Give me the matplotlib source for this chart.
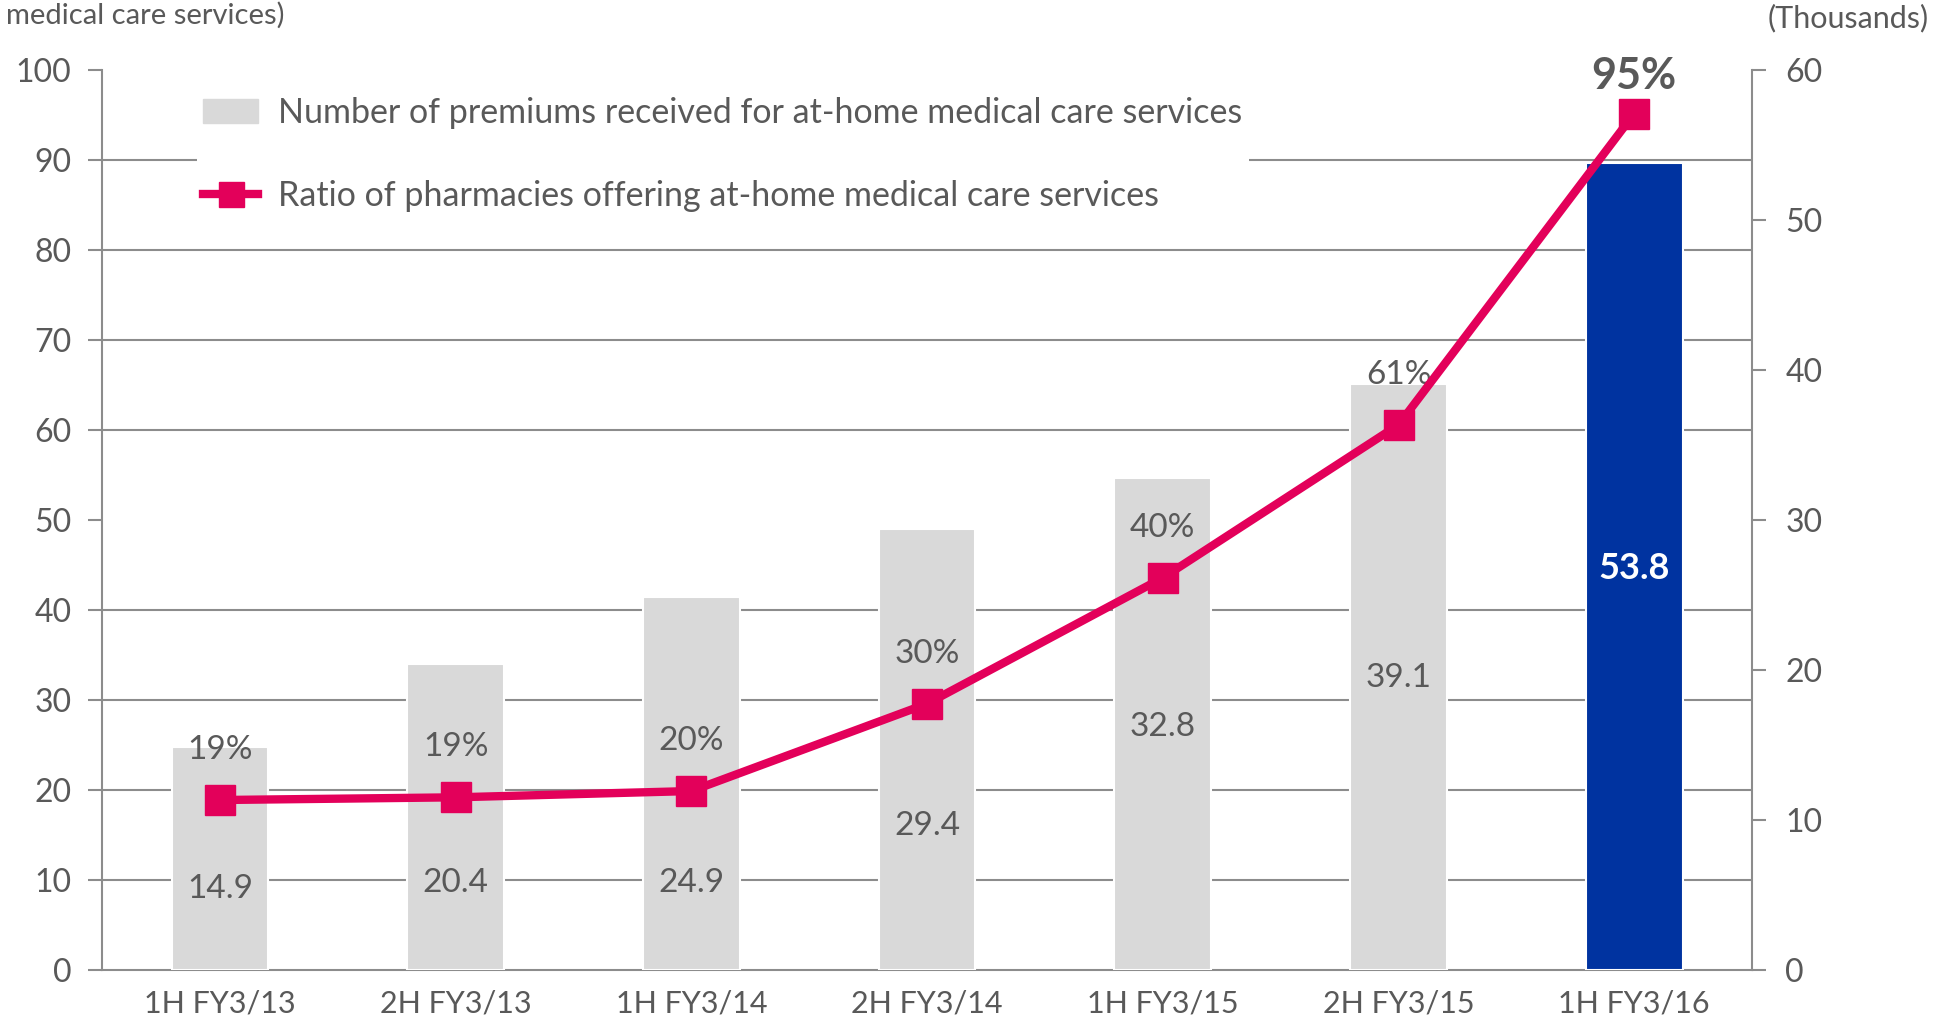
import matplotlib.pyplot as plt
import matplotlib.lines as mlines
import matplotlib.patches as mpatches
import numpy as np

# Données
periodes = ['1H FY3/13', '2H FY3/13', '1H FY3/14', '2H FY3/14', '1H FY3/15', '2H FY3/15', '1H FY3/16']
primes = [14.9, 20.4, 24.9, 29.4, 32.8, 39.1, 53.8]          # milliers
ratio = [18.9, 19.2, 19.9, 29.6, 43.6, 60.6, 95.2]            # % (position des points)
ratio_labels = ['19%', '19%', '20%', '30%', '40%', '61%', '95%']
primes_labels = ['14.9', '20.4', '24.9', '29.4', '32.8', '39.1', '53.8']

plt.rcParams['font.family'] = ['Lato', 'DejaVu Sans']

GRIS_TXT = '#595959'
GRIS_AXE = '#8c8c8c'
ROSE = '#e3005a'
BLEU = '#0033a0'
GRIS_BAR = '#d9d9d9'

fig = plt.figure(figsize=(19.35, 10.19), dpi=100)
ax = fig.add_axes([0.0527, 0.048, 0.8528, 0.883])

x = np.arange(len(periodes))
couleurs = [GRIS_BAR] * (len(periodes) - 1) + [BLEU]
ax.bar(x, primes, width=0.41, color=couleurs, edgecolor='white', linewidth=1.5, zorder=3)
ax.set_ylim(0, 60)
ax.set_xlim(-0.5, len(periodes) - 0.5)

# étiquettes des barres (déplacées vers le bas quand la ligne passe au milieu)
pos_labels = [5.4, 5.8, 5.8, 9.6, 16.2, 19.5, 26.8]
for i, (lab, yy) in enumerate(zip(primes_labels, pos_labels)):
    if i == len(periodes) - 1:
        ax.text(i, yy, lab, ha='center', va='center', fontsize=26, color='white', fontweight='bold', zorder=4)
    else:
        ax.text(i, yy, lab, ha='center', va='center', fontsize=24, color=GRIS_TXT, zorder=4)

# axe gauche (ratio) - la ligne par-dessus les barres
ax2 = ax.twinx()
ax2.plot(x, ratio, color=ROSE, linewidth=6, marker='s', markersize=21, zorder=5)
ax2.set_ylim(0, 100)
ax2.set_yticks(range(0, 101, 10))
ax2.yaxis.tick_left()
ax2.tick_params(axis='y', length=10, width=1.5, color=GRIS_AXE, labelsize=23, labelcolor=GRIS_TXT, pad=12)
for s in ax2.spines.values():
    s.set_visible(False)

# axe droit (milliers) - à régler après twinx
ax.yaxis.tick_right()
ax.set_yticks(range(0, 61, 10))
ax.set_yticks(np.linspace(0, 60, 11), minor=True)
ax.grid(which='minor', axis='y', color=GRIS_AXE, linewidth=1.5, zorder=0)
ax.tick_params(axis='y', which='minor', length=0, right=False, left=False)
ax.tick_params(axis='y', which='major', length=10, width=1.5, color=GRIS_AXE,
               labelsize=23, labelcolor=GRIS_TXT, pad=14, left=False, labelleft=False,
               right=True, labelright=True)
ax.set_xticks(x)
ax.set_xticklabels(periodes)
ax.tick_params(axis='x', length=0, labelsize=22, labelcolor=GRIS_TXT, pad=14)
for s in ['left', 'right', 'bottom']:
    ax.spines[s].set_color(GRIS_AXE)
    ax.spines[s].set_linewidth(1.5)
ax.spines['top'].set_visible(False)

for i, (lab, yy) in enumerate(zip(ratio_labels, ratio)):
    if i == len(periodes) - 1:
        ax2.annotate(lab, (i, yy), xytext=(0, 27), textcoords='offset points', ha='center', va='center',
                     fontsize=31, fontweight='bold', color=GRIS_TXT)
    else:
        ax2.annotate(lab, (i, yy), xytext=(0, 36), textcoords='offset points', ha='center', va='center',
                     fontsize=24, color=GRIS_TXT)

# légende
h_bar = mpatches.Patch(color=GRIS_BAR, label='Number of premiums received for at-home medical care services')
h_line = mlines.Line2D([], [], color=ROSE, linewidth=6, marker='s', markersize=18,
                       label='Ratio of pharmacies offering at-home medical care services')
leg = ax2.legend(handles=[h_bar, h_line], loc='upper left', bbox_to_anchor=(0.047, 0.997),
                 fontsize=24.5, frameon=True, facecolor='white', edgecolor='none', framealpha=1,
                 labelspacing=1.5, handlelength=1.6, handletextpad=0.6, labelcolor=GRIS_TXT,
                 borderpad=0.2, fancybox=False)

fig.text(0.003, 0.985, 'medical care services)', fontsize=21, color=GRIS_TXT, ha='left', va='center')
fig.text(0.997, 0.982, '(Thousands)', fontsize=22, color=GRIS_TXT, ha='right', va='center')

plt.savefig('out.png', dpi=100)
plt.close()
